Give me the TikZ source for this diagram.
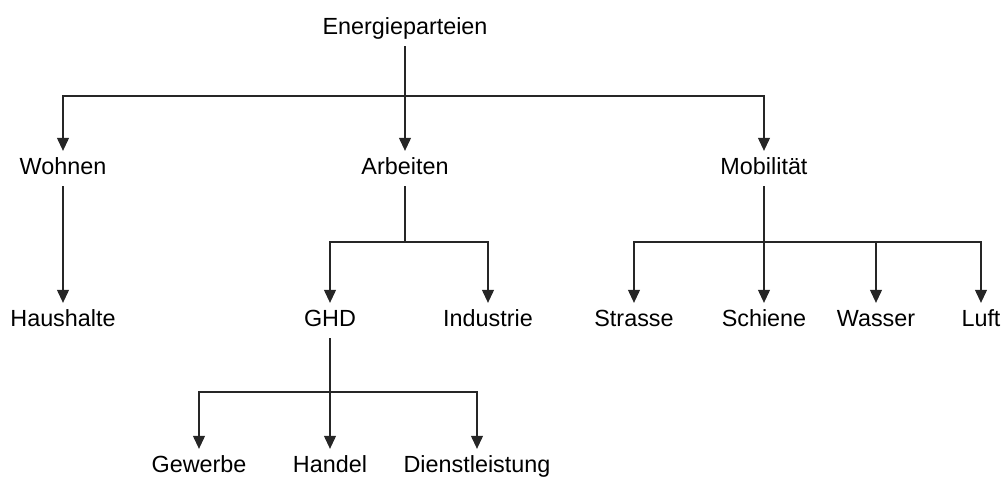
\documentclass[tikz,border=0pt]{standalone}
\usepackage{fontspec}
\setmainfont{Liberation Sans}
\usetikzlibrary{arrows.meta}
\begin{document}
\begin{tikzpicture}[x=0.02cm, y=-0.02cm,
  item/.style={anchor=base, inner sep=0pt, outer xsep=0pt, outer ysep=0.23cm,
    text height=0.72em, text depth=0pt, font=\fontsize{13.3}{16}\selectfont},
  arr/.style={-{Triangle[length=0.26cm,width=0.24cm]}, line width=0.6pt, draw=black!85}]
\useasboundingbox (0,0) rectangle (1002,479);
%
\path (405,35)  node[item] (ener) {Energieparteien};
\path (63,175)  node[item] (wohnen) {Wohnen};
\path (405,175) node[item] (arbeiten) {Arbeiten};
\path (764,175) node[item] (mobil) {Mobilität};
%
\path (63,327)  node[item] (haus) {Haushalte};
\path (330,327) node[item] (ghd) {GHD};
\path (488,327) node[item] (indu) {Industrie};
\path (634,327) node[item] (strasse) {Strasse};
\path (764,327) node[item] (schiene) {Schiene};
\path (876,327) node[item] (wasser) {Wasser};
\path (981,327) node[item] (luft) {Luft};
%
\path (199,473) node[item] (gewerbe) {Gewerbe};
\path (330,473) node[item] (handel) {Handel};
\path (477,473) node[item] (dienst) {Dienstleistung};
%
\coordinate (bar0) at (405,96);
\coordinate (bar1) at (405,242);
\coordinate (bar2) at (764,242);
\coordinate (bar3) at (330,392);
%
\draw [arr] (ener.south) -- (bar0) -| (wohnen.north);
\draw [arr] (ener.south) -- (arbeiten.north);
\draw [arr] (bar0) -| (mobil.north);
%
\draw [arr] (wohnen.south) -- (haus.north);
%
\draw [arr] (arbeiten.south) -- (bar1) -| (ghd.north);
\draw [arr] (bar1) -| (indu.north);
%
\draw [arr] (mobil.south) -- (schiene.north);
\draw [arr] (bar2) -| (strasse.north);
\draw [arr] (bar2) -| (wasser.north);
\draw [arr] (bar2) -| (luft.north);
%
\draw [arr] (ghd.south) -- (handel.north);
\draw [arr] (bar3) -| (gewerbe.north);
\draw [arr] (bar3) -| (dienst.north);
\end{tikzpicture}
\end{document}
